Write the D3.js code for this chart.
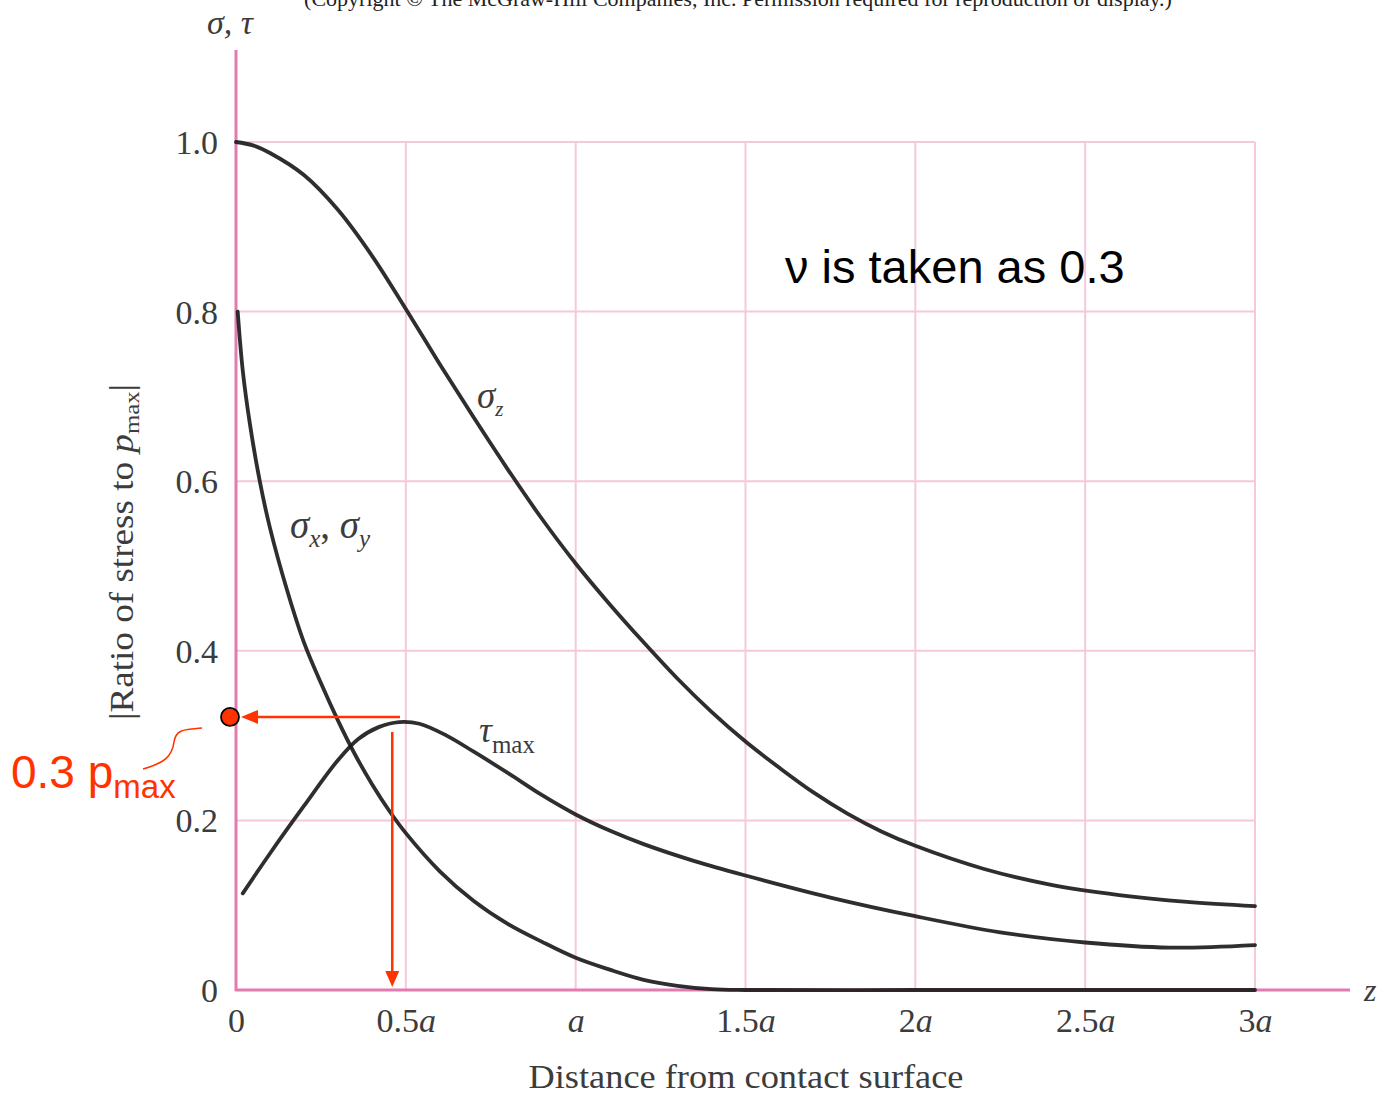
<!DOCTYPE html>
<html><head><meta charset="utf-8">
<script src="https://cdn.jsdelivr.net/npm/d3@7"></script>
<style>body{margin:0;background:#fff}svg{display:block}</style>
</head><body>
<svg id="c" width="1384" height="1102"></svg>
<script>
// ---- data ----
const xTickValues = [0, 0.5, 1, 1.5, 2, 2.5, 3];
const xTickNums   = ["0", "0.5", "", "1.5", "2", "2.5", "3"];
const xTickHasA   = [false, true, true, true, true, true, true];
const yTickValues = [0, 0.2, 0.4, 0.6, 0.8, 1.0];
const yTickLabels = ["0", "0.2", "0.4", "0.6", "0.8", "1.0"];

const zSigmaZ   = [0, 0.05, 0.1, 0.2, 0.3, 0.4, 0.5, 0.6, 0.7, 0.8, 0.9, 1.0, 1.1, 1.2, 1.3, 1.4, 1.5, 1.6, 1.7, 1.8, 1.9, 2.0, 2.2, 2.4, 2.6, 2.8, 3.0];
const sigmaZ    = [1.0, 0.996, 0.987, 0.961, 0.920, 0.866, 0.803, 0.738, 0.675, 0.614, 0.556, 0.503, 0.455, 0.410, 0.367, 0.328, 0.293, 0.262, 0.233, 0.208, 0.187, 0.170, 0.143, 0.124, 0.112, 0.104, 0.099];

const zSigmaX   = [0.005, 0.02, 0.04, 0.07, 0.1, 0.15, 0.2, 0.25, 0.3, 0.35, 0.4, 0.45, 0.5, 0.6, 0.7, 0.8, 0.9, 1.0, 1.1, 1.2, 1.3, 1.4, 1.5, 2.0, 2.5, 3.0];
const sigmaX    = [0.80, 0.73, 0.67, 0.60, 0.545, 0.472, 0.41, 0.362, 0.318, 0.278, 0.243, 0.212, 0.185, 0.140, 0.105, 0.078, 0.057, 0.038, 0.024, 0.012, 0.005, 0.001, 0, 0, 0, 0];

const zTau      = [0.02, 0.1, 0.2, 0.3, 0.36, 0.42, 0.48, 0.54, 0.62, 0.7, 0.8, 0.9, 1.0, 1.1, 1.2, 1.35, 1.5, 1.75, 2.0, 2.25, 2.5, 2.75, 3.0];
const tauMax    = [0.114, 0.161, 0.217, 0.271, 0.296, 0.310, 0.316, 0.314, 0.300, 0.281, 0.256, 0.230, 0.207, 0.188, 0.172, 0.152, 0.135, 0.109, 0.087, 0.068, 0.056, 0.050, 0.053];

const markerValue = 0.322;   // 0.3 p_max read-off point
const markerZ     = 0.46;

// ---- drawing ----
const svg = d3.select("#c");
const x = d3.scaleLinear().domain([0, 3]).range([236, 1255]);
const y = d3.scaleLinear().domain([0, 1]).range([990, 142]);
const serif = "'Liberation Serif','Times New Roman',serif";
const sans = "'Liberation Sans',Arial,sans-serif";
const gridCol = "#f5c8da", axisCol = "#e27bb1", textCol = "#3c3c3c", red = "#ff3300";

// copyright line (cut at top, as in the reference)
svg.append("text").attr("x", 738).attr("y", 6).attr("text-anchor", "middle")
  .attr("font-family", serif).attr("font-size", 22).attr("fill", "#222")
  .text("(Copyright \u00A9 The McGraw-Hill Companies, Inc. Permission required for reproduction or display.)");

// grid
const g = svg.append("g");
g.selectAll("line.v").data(xTickValues.slice(1)).join("line")
  .attr("x1", d => x(d)).attr("x2", d => x(d)).attr("y1", y(1)).attr("y2", y(0))
  .attr("stroke", gridCol).attr("stroke-width", 2);
g.selectAll("line.h").data(yTickValues.slice(1)).join("line")
  .attr("x1", x(0)).attr("x2", x(3)).attr("y1", d => y(d)).attr("y2", d => y(d))
  .attr("stroke", gridCol).attr("stroke-width", 2);

// axes via d3 axis generators (ticks as labels only)
const xAxis = svg.append("g").attr("transform", `translate(0,${y(0)})`)
  .call(d3.axisBottom(x).tickValues(xTickValues).tickSize(0).tickPadding(0).tickFormat(() => ""));
xAxis.select(".domain").remove();
xAxis.selectAll(".tick text").each(function(d, i) {
  const t = d3.select(this).attr("y", 42).attr("dy", null)
    .attr("font-family", serif).attr("font-size", 34).attr("fill", textCol);
  t.text(null);
  if (xTickNums[i]) t.append("tspan").text(xTickNums[i]);
  if (xTickHasA[i]) t.append("tspan").attr("font-style", "italic").text("a");
});

const yAxis = svg.append("g").attr("transform", `translate(${x(0)},0)`)
  .call(d3.axisLeft(y).tickValues(yTickValues).tickSize(0).tickPadding(18).tickFormat((d, i) => yTickLabels[i]));
yAxis.select(".domain").remove();
yAxis.selectAll(".tick text").attr("font-family", serif).attr("font-size", 34).attr("fill", textCol).attr("dy", "0.34em");

// axis lines
svg.append("line").attr("x1", x(0)).attr("x2", x(0)).attr("y1", 50).attr("y2", y(0) + 1)
  .attr("stroke", axisCol).attr("stroke-width", 3);
svg.append("line").attr("x1", x(0) - 1).attr("x2", 1350).attr("y1", y(0)).attr("y2", y(0))
  .attr("stroke", axisCol).attr("stroke-width", 3);

// axis labels
svg.append("text").attr("x", 207).attr("y", 34).attr("font-family", serif).attr("font-style", "italic")
  .attr("font-size", 34).attr("fill", textCol).text("\u03C3, \u03C4");
svg.append("text").attr("x", 1364).attr("y", 1001).attr("font-family", serif).attr("font-style", "italic")
  .attr("font-size", 32).attr("fill", textCol).text("z");
svg.append("text").attr("x", 746).attr("y", 1088).attr("text-anchor", "middle")
  .attr("font-family", serif).attr("font-size", 33).attr("fill", textCol)
  .attr("textLength", 435).attr("lengthAdjust", "spacingAndGlyphs")
  .text("Distance from contact surface");
const yt = svg.append("text").attr("transform", "translate(133,552) rotate(-90)")
  .attr("text-anchor", "middle").attr("font-family", serif).attr("font-size", 33).attr("fill", textCol)
  .attr("textLength", 336).attr("lengthAdjust", "spacingAndGlyphs");
yt.append("tspan").text("|Ratio of stress to  ");
yt.append("tspan").attr("font-style", "italic").text("p");
yt.append("tspan").attr("font-size", 22).attr("dy", 6).text("max");
yt.append("tspan").attr("dy", -6).text("|");

// curves
const line = d3.line().x(d => x(d[0])).y(d => y(d[1])).curve(d3.curveCatmullRom.alpha(0.5));
const series = [
  d3.zip(zSigmaZ, sigmaZ),
  d3.zip(zSigmaX, sigmaX),
  d3.zip(zTau, tauMax)
];
svg.selectAll("path.curve").data(series).join("path").attr("class", "curve")
  .attr("d", line).attr("fill", "none").attr("stroke", "#1c1c1c").attr("stroke-width", 3.8)
  .attr("stroke-linecap", "round").attr("stroke-linejoin", "round").attr("stroke-opacity", 0.92);

// curve labels
const lab = (xx, yy, fs) => svg.append("text").attr("x", xx).attr("y", yy)
  .attr("font-family", serif).attr("font-size", fs).attr("fill", textCol);
const l1 = lab(477, 408, 37);
l1.append("tspan").attr("font-style", "italic").text("\u03C3");
l1.append("tspan").attr("font-style", "italic").attr("font-size", 21).attr("dy", 8).text("z");
const l2 = lab(290, 538, 39);
l2.append("tspan").attr("font-style", "italic").text("\u03C3");
l2.append("tspan").attr("font-style", "italic").attr("font-size", 25).attr("dy", 9).text("x");
l2.append("tspan").attr("dy", -9).text(", ");
l2.append("tspan").attr("font-style", "italic").text("\u03C3");
l2.append("tspan").attr("font-style", "italic").attr("font-size", 25).attr("dy", 9).text("y");
const l3 = lab(479, 742, 36);
l3.append("tspan").attr("font-style", "italic").text("\u03C4");
l3.append("tspan").attr("font-size", 25).attr("dy", 11).text("max");

// annotation text
svg.append("text").attr("x", 785).attr("y", 283).attr("font-family", sans).attr("font-size", 47)
  .attr("fill", "#000").text("\u03BD is taken as 0.3");

// red annotation
const ann = svg.append("g");
const yM = y(markerValue), xM = x(markerZ);
ann.append("line").attr("x1", 400).attr("x2", x(0) + 20).attr("y1", yM).attr("y2", yM)
  .attr("stroke", red).attr("stroke-width", 2.5);
ann.append("path").attr("d", `M${x(0) + 5},${yM} L${x(0) + 22},${yM - 7} L${x(0) + 22},${yM + 7} Z`).attr("fill", red);
ann.append("line").attr("x1", xM).attr("x2", xM).attr("y1", yM + 15).attr("y2", y(0) - 15)
  .attr("stroke", red).attr("stroke-width", 2.5);
ann.append("path").attr("d", `M${xM},${y(0) - 3} L${xM - 7},${y(0) - 19} L${xM + 7},${y(0) - 19} Z`).attr("fill", red);
ann.append("circle").attr("cx", 230).attr("cy", yM).attr("r", 9)
  .attr("fill", red).attr("stroke", "#000").attr("stroke-width", 1.8);
ann.append("path").attr("d", "M202,728 C186,730 176,728 174,742 C172,757 164,763 143,769")
  .attr("fill", "none").attr("stroke", red).attr("stroke-width", 1.6);
const at = ann.append("text").attr("x", 11).attr("y", 788).attr("font-family", sans)
  .attr("font-size", 46).attr("fill", red);
at.append("tspan").text("0.3 p");
at.append("tspan").attr("font-size", 33).attr("dy", 10).text("max");
</script>
</body></html>
